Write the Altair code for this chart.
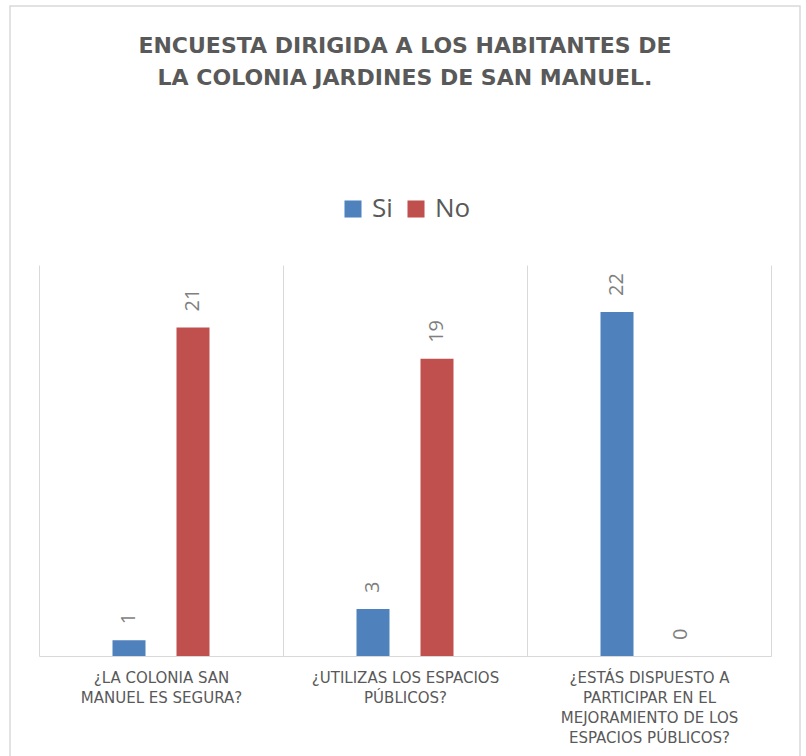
import altair as alt
import pandas as pd

categories = [
    "¿LA COLONIA SAN\nMANUEL ES SEGURA?",
    "¿UTILIZAS LOS ESPACIOS\nPÚBLICOS?",
    "¿ESTÁS DISPUESTO A\nPARTICIPAR EN EL\nMEJORAMIENTO DE LOS\nESPACIOS PÚBLICOS?",
]
series = ["Si", "No"]
si_values = [1, 3, 22]
no_values = [21, 19, 0]
colors = ["#4f81bd", "#c0504d"]
title_lines = ["ENCUESTA DIRIGIDA A LOS HABITANTES DE", "LA COLONIA JARDINES DE SAN MANUEL."]

rows = []
for c, s, n in zip(categories, si_values, no_values):
    rows.append({"cat": c, "serie": "Si", "val": s})
    rows.append({"cat": c, "serie": "No", "val": n})
df = pd.DataFrame(rows)

x_enc = alt.X(
    "cat:N",
    sort=categories,
    title=None,
    scale=alt.Scale(paddingInner=0, paddingOuter=0),
    axis=alt.Axis(
        grid=True,
        gridColor="#d9d9d9",
        gridWidth=1,
        tickBand="extent",
        ticks=False,
        domain=True,
        domainColor="#d9d9d9",
        domainWidth=1,
        labelAngle=0,
        labelExpr="split(datum.label, '\\n')",
        labelFont="DejaVu Sans",
        labelFontSize=15,
        labelColor="#595959",
        labelLineHeight=20,
        labelPadding=14,
        labelLimit=400,
        labelOverlap=False,
    ),
)
xo_enc = alt.XOffset(
    "serie:N",
    sort=series,
    scale=alt.Scale(domain=series, paddingInner=0.1875, paddingOuter=1),
)
y_enc = alt.Y(
    "val:Q",
    scale=alt.Scale(domain=[0, 25], nice=False),
    axis=None,
)

bars = alt.Chart(df).mark_bar(width=33).encode(
    x=x_enc,
    xOffset=xo_enc,
    y=y_enc,
    color=alt.Color(
        "serie:N",
        sort=series,
        scale=alt.Scale(domain=series, range=colors),
        legend=alt.Legend(
            title=None,
            orient="none",
            legendX=301,
            legendY=-69,
            direction="horizontal",
            symbolType="square",
            symbolSize=290,
            symbolStrokeWidth=0,
            labelFont="Open Sans",
            labelFontSize=26,
            labelColor="#595959",
            labelOffset=6,
            columnPadding=10,
            padding=0,
        ),
    ),
)

labels = alt.Chart(df).mark_text(
    angle=270,
    align="left",
    baseline="middle",
    dx=16,
    font="Open Sans",
    fontSize=20,
    color="#7f7f7f",
).encode(
    x=alt.X("cat:N", sort=categories),
    xOffset=alt.XOffset("serie:N", sort=series),
    y=alt.Y("val:Q"),
    text=alt.Text("val:Q"),
)

frame = alt.Chart(alt.Data(values=[{"k": 1}])).mark_rect(
    fillOpacity=0, stroke="#d9d9d9", strokeWidth=1.5
).encode(
    x=alt.value(-29),
    x2=alt.value(761),
    y=alt.value(-259),
    y2=alt.value(500),
)

chart = (
    alt.layer(frame, bars, labels)
    .properties(
        width=732,
        height=391,
        autosize=alt.AutoSizeParams(type="none"),
        padding={"left": 39, "top": 265, "right": 35, "bottom": 100},
        title=alt.TitleParams(
            text=title_lines,
            anchor="middle",
            font="DejaVu Sans",
            fontSize=22,
            fontWeight="bold",
            color="#595959",
            lineHeight=32,
            offset=-85,
        ),
        background="white",
    )
    .configure_view(stroke=None)
)

chart.save("out.html", embed_options={"renderer": "svg", "actions": False})
